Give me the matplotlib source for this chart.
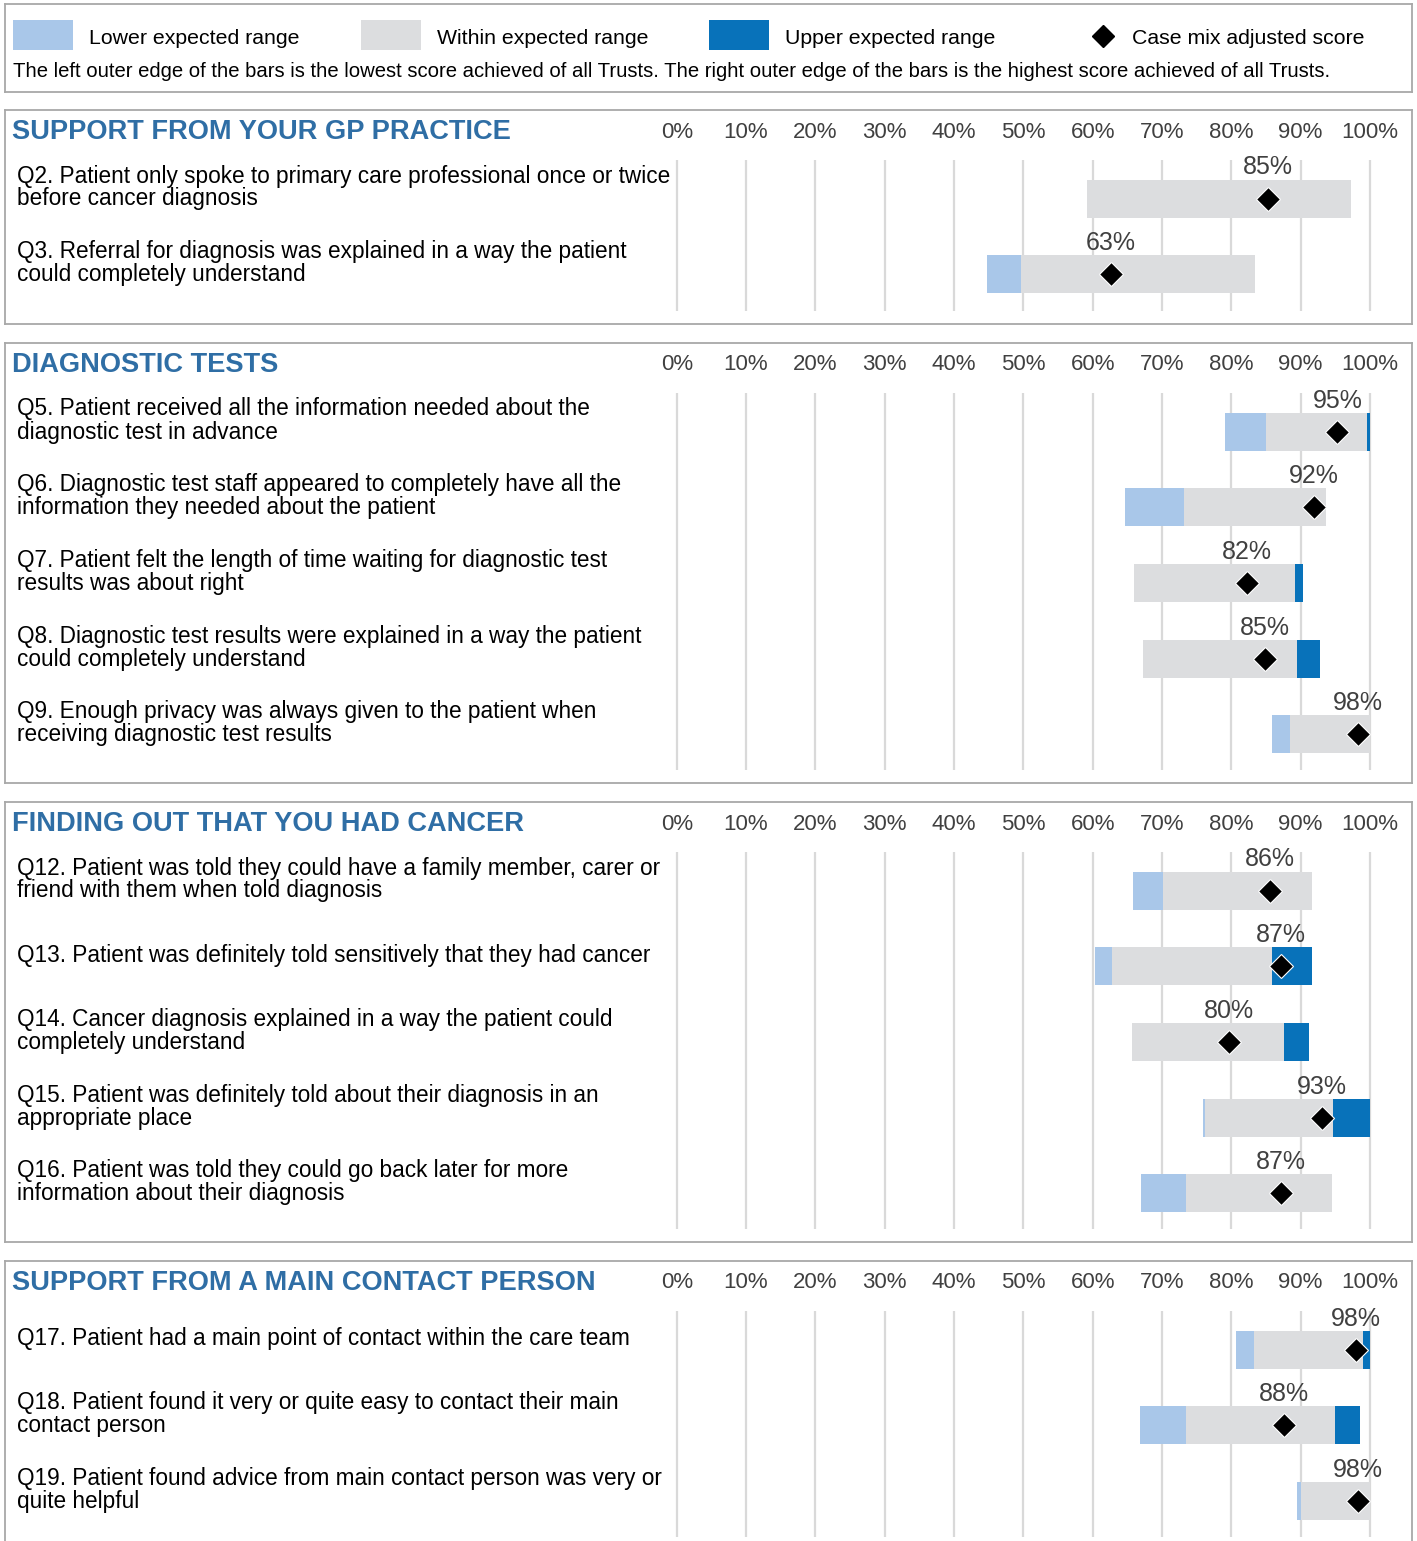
import matplotlib
matplotlib.use("Agg")
import matplotlib.pyplot as plt
from matplotlib.patches import Rectangle

plt.rcParams['font.family'] = ['Liberation Sans', 'DejaVu Sans']

# ---------------- data ----------------
sections = [
    "SUPPORT FROM YOUR GP PRACTICE",
    "DIAGNOSTIC TESTS",
    "FINDING OUT THAT YOU HAD CANCER",
    "SUPPORT FROM A MAIN CONTACT PERSON",
]
section_questions = [
    ["Q2. Patient only spoke to primary care professional once or twice\nbefore cancer diagnosis",
     "Q3. Referral for diagnosis was explained in a way the patient\ncould completely understand"],
    ["Q5. Patient received all the information needed about the\ndiagnostic test in advance",
     "Q6. Diagnostic test staff appeared to completely have all the\ninformation they needed about the patient",
     "Q7. Patient felt the length of time waiting for diagnostic test\nresults was about right",
     "Q8. Diagnostic test results were explained in a way the patient\ncould completely understand",
     "Q9. Enough privacy was always given to the patient when\nreceiving diagnostic test results"],
    ["Q12. Patient was told they could have a family member, carer or\nfriend with them when told diagnosis",
     "Q13. Patient was definitely told sensitively that they had cancer",
     "Q14. Cancer diagnosis explained in a way the patient could\ncompletely understand",
     "Q15. Patient was definitely told about their diagnosis in an\nappropriate place",
     "Q16. Patient was told they could go back later for more\ninformation about their diagnosis"],
    ["Q17. Patient had a main point of contact within the care team",
     "Q18. Patient found it very or quite easy to contact their main\ncontact person",
     "Q19. Patient found advice from main contact person was very or\nquite helpful"],
]
# lowest trust score, lower expected limit, upper expected limit, highest trust score, case mix adjusted score
lowest = [[59.2, 44.8], [79.1, 64.7, 66.0, 67.3, 85.9],
          [65.8, 60.3, 65.7, 75.9, 67.0], [80.7, 66.8, 89.5]]
lower_limit = [[59.2, 49.7], [85.0, 73.2, 66.0, 67.3, 88.5],
               [70.1, 62.8, 65.7, 76.2, 73.5], [83.3, 73.5, 90.1]]
upper_limit = [[97.3, 83.4], [99.6, 93.7, 89.2, 89.5, 100.0],
               [91.6, 85.9, 87.6, 94.6, 94.5], [99.0, 95.0, 100.0]]
highest = [[97.3, 83.4], [100.0, 93.7, 90.3, 92.8, 100.0],
           [91.6, 91.6, 91.2, 100.0, 94.5], [100.0, 98.6, 100.0]]
score = [[85.3, 62.6], [95.3, 91.9, 82.3, 84.8, 98.2],
         [85.6, 87.2, 79.7, 93.1, 87.1], [98.0, 87.6, 98.2]]
score_label = [[85, 63], [95, 92, 82, 85, 98], [86, 87, 80, 93, 87], [98, 88, 98]]
ticks = [0, 10, 20, 30, 40, 50, 60, 70, 80, 90, 100]
legend_labels = ["Lower expected range", "Within expected range",
                 "Upper expected range", "Case mix adjusted score"]
note = ("The left outer edge of the bars is the lowest score achieved of all Trusts. "
        "The right outer edge of the bars is the highest score achieved of all Trusts.")

# ---------------- style ----------------
C_LOW = "#A9C7E9"
C_MID = "#DCDDDF"
C_UP = "#0872BA"
C_TITLE = "#2F6EA5"
C_BOX = "#A8A8A8"
C_GRID = "#D9D9D9"
C_TXT = "#404040"

W, H = 1417, 1541
fig = plt.figure(figsize=(W / 100, H / 100), dpi=100)


def px_axes(x0, y0, x1, y1):
    return fig.add_axes([x0 / W, 1 - y1 / H, (x1 - x0) / W, (y1 - y0) / H])


def style_box(ax):
    ax.set_xticks([])
    ax.set_yticks([])
    for s in ax.spines.values():
        s.set_color(C_BOX)
        s.set_linewidth(1.3)


# ---------------- legend box ----------------
lax = px_axes(5, 4, 1412, 92)
lax.set_xlim(5, 1412)
lax.set_ylim(92, 4)
style_box(lax)
for x0, c, lab in [(13, C_LOW, legend_labels[0]), (361, C_MID, legend_labels[1]),
                   (709, C_UP, legend_labels[2])]:
    lax.add_patch(Rectangle((x0, 20), 60, 30, color=c, lw=0))
    lax.text(x0 + 76, 38.5, lab, fontsize=15.3, va='center', ha='left', color='black')
lax.plot([1103], [36], 'D', color='black', ms=11)
lax.text(1132, 38.5, legend_labels[3], fontsize=15.3, va='center', ha='left', color='black')
lax.text(13, 71.5, note, fontsize=14.6, va='center', ha='left', color='black')

# ---------------- sections ----------------
boxes = [(110, 324), (343, 783), (802, 1242), (1261, 1600)]
X0PX, PXPCT = 676.7, 6.933
ROW = 75.7
ROW0 = 88.5

for si, (top, bot) in enumerate(boxes):
    ax = px_axes(5, top, 1412, bot)
    style_box(ax)
    h = bot - top
    ax.set_xlim(-(X0PX - 5) / PXPCT, 100 + (1412 - 1370) / PXPCT)
    ax.set_ylim((h - ROW0) / ROW, -ROW0 / ROW)

    y_title = (22 - ROW0) / ROW
    tr = ax.get_yaxis_transform()
    ax.text(7 / 1407, y_title, sections[si], transform=tr, fontsize=19.6,
            fontweight='bold', color=C_TITLE, va='center', ha='left')
    for t in ticks:
        ax.text(t, y_title, f"{t}%", fontsize=16, color=C_TXT, ha='center', va='center')

    grid_bot = min(h - 13, 1537 - top)
    ax.vlines(ticks, (50 - ROW0) / ROW, (grid_bot - ROW0) / ROW, color=C_GRID, lw=1.6, zorder=1)

    n = len(section_questions[si])
    for i in range(n):
        lo, ll = lowest[si][i], lower_limit[si][i]
        ul, hi = upper_limit[si][i], highest[si][i]
        bh = 38 / ROW
        mid_start = max(lo, ll)
        mid_end = min(hi, ul)
        if ll > lo:
            ax.barh(i, ll - lo, left=lo, height=bh, color=C_LOW, lw=0, zorder=2)
        ax.barh(i, mid_end - mid_start, left=mid_start, height=bh, color=C_MID, lw=0, zorder=2)
        if hi > ul:
            ax.barh(i, hi - ul, left=ul, height=bh, color=C_UP, lw=0, zorder=2)
        ax.plot(score[si][i], i, 'D', color='black', ms=12.5, mec='white', mew=0.8, zorder=4)
        ax.text(score[si][i], i - 31 / ROW, f"{score_label[si][i]}%", fontsize=18,
                color=C_TXT, ha='center', va='center', zorder=5)
        ax.text(12 / 1407, i - 11 / ROW, section_questions[si][i], transform=tr,
                fontsize=16.3, color='black', ha='left', va='center', linespacing=1.0)

fig.savefig("out.png", dpi=100)
